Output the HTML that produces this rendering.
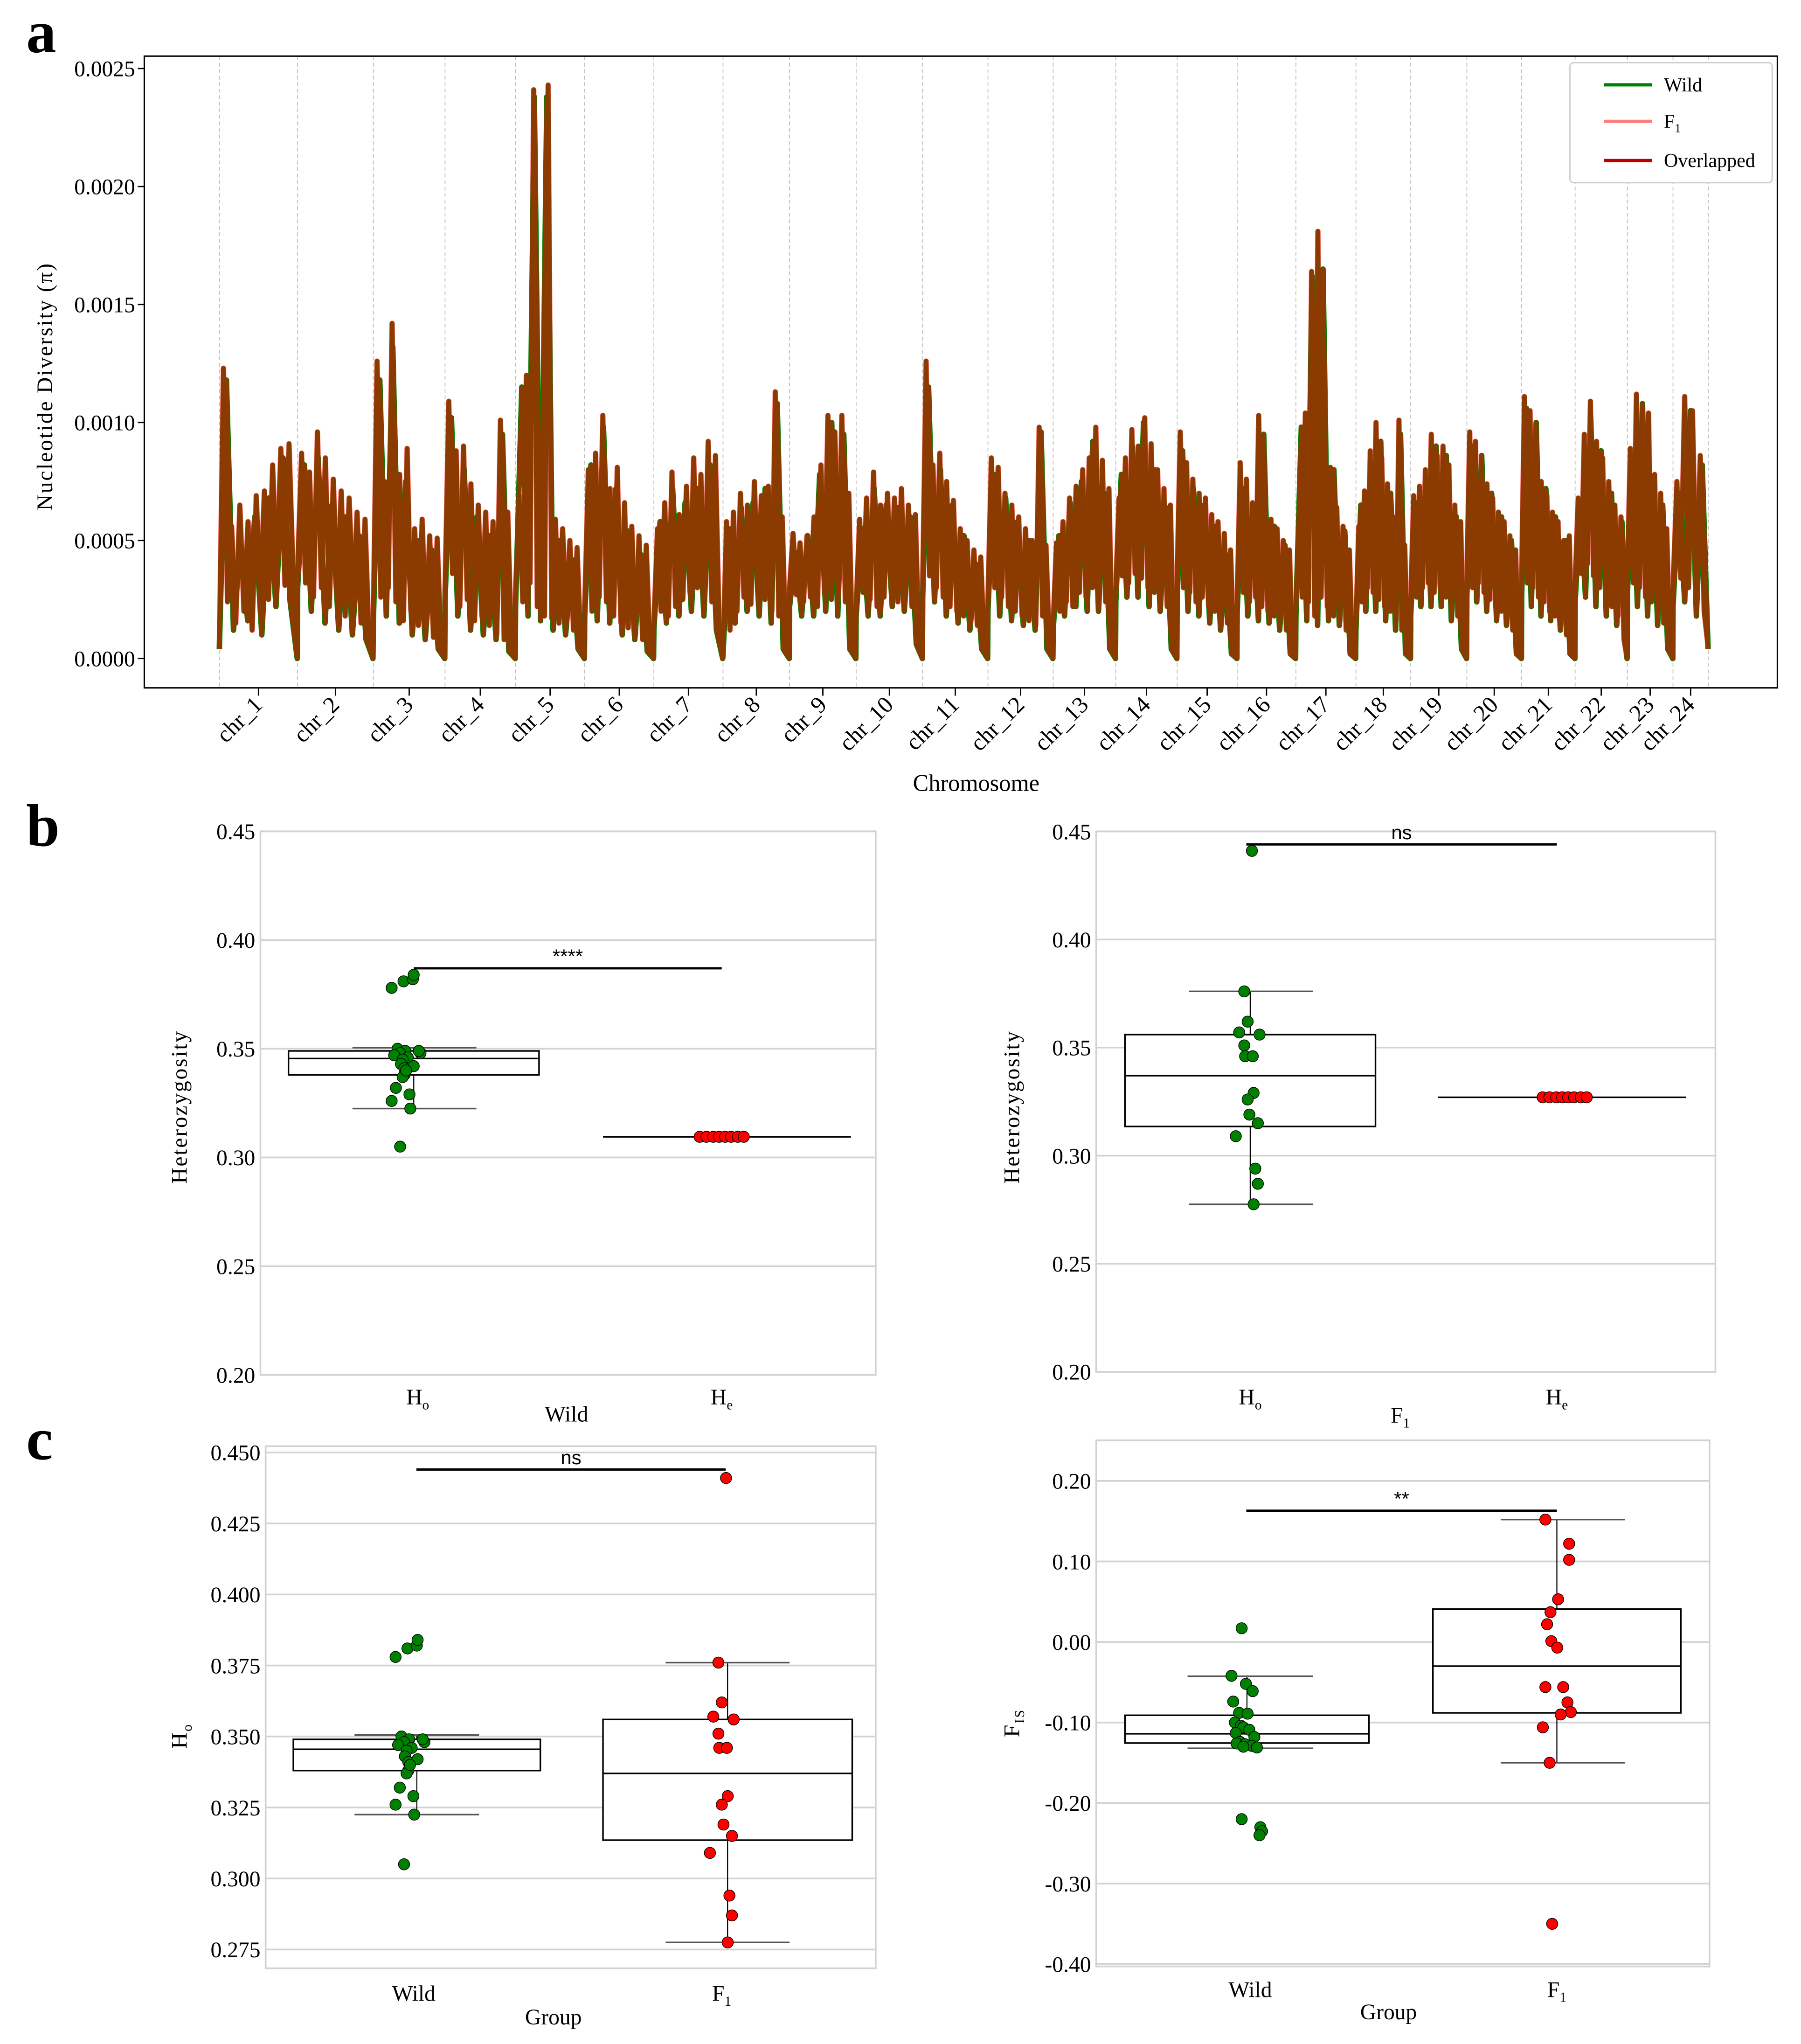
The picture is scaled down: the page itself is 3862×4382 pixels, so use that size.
<!DOCTYPE html>
<html><head><meta charset="utf-8"><style>
html,body{margin:0;padding:0;background:#fff;}
svg{display:block;font-family:"Liberation Serif",serif;}
</style></head><body>
<svg id="fig" width="3862" height="4382" viewBox="0 0 1380 1566" xmlns="http://www.w3.org/2000/svg">
<rect x="0" y="0" width="1380" height="1566" fill="#fff"/>
<text x="20" y="40" font-size="46" font-weight="bold">a</text>
<text x="20" y="648" font-size="46" font-weight="bold">b</text>
<text x="20" y="1118" font-size="46" font-weight="bold">c</text>
<g id="pa"></g>
<g id="pb1"></g>
<g id="pb2"></g>
<g id="pc1"></g>
<g id="pc2"></g>
</svg>
<script>
// ---------- Panel a data (pi in units of 1e-4) ----------
const chrNames = ["chr_1","chr_2","chr_3","chr_4","chr_5","chr_6","chr_7","chr_8","chr_9","chr_10","chr_11","chr_12","chr_13","chr_14","chr_15","chr_16","chr_17","chr_18","chr_19","chr_20","chr_21","chr_22","chr_23","chr_24"];
const chrLengths = [60,58,55,54,53,53,53,51,51,51,50,50,48,47,46,45,46,42,43,42,41,40,35,27];
const piTicks = [0,5,10,15,20,25];
const piTickLabels = ["0.0000","0.0005","0.0010","0.0015","0.0020","0.0025"];
const f1Pi = [
[0.4,12.3,2.4,5.6,1.5,6.5,2.0,5.8,1.2,6.9,2.9,7.1,2.5,8.2,3.4,8.9,3.1,9.1,3.6,0.0],
[3.8,8.7,3.2,7.9,2.6,9.6,3.0,8.5,2.2,7.6,2.8,7.1,1.8,6.8,2.4,6.2,1.5,5.9,0.9,0.0],
[1.8,12.6,2.6,7.5,3.0,14.2,2.4,7.8,1.6,8.9,2.0,5.5,1.4,5.9,1.2,5.2,0.9,5.1,0.6,0.0],
[3.0,10.9,3.6,8.8,2.2,9.0,2.5,7.4,1.6,6.5,1.8,6.2,1.4,5.8,1.0,10.1,0.8,6.2,0.3,0.0],
[2.8,6.9,2.4,12.0,3.2,24.1,2.2,6.0,1.8,24.3,1.7,5.9,1.5,5.5,1.9,5.0,1.2,4.7,0.5,0.0],
[2.2,8.0,2.0,8.7,2.6,10.3,2.4,7.2,1.8,8.1,1.5,6.6,1.3,5.6,1.0,5.2,0.8,4.8,0.4,0.0],
[1.5,5.5,2.0,6.6,1.8,7.9,2.2,6.1,2.5,7.3,2.8,8.5,3.0,7.8,2.6,9.2,2.4,8.6,1.5,0.0],
[0.2,5.8,1.2,6.2,2.0,7.0,2.6,6.5,2.3,7.5,2.8,6.9,2.5,7.3,2.0,11.3,1.8,6.0,0.5,0.0],
[3.0,5.3,2.7,4.9,2.4,5.2,2.6,6.0,2.2,8.2,2.8,10.3,2.5,9.6,3.0,10.3,2.4,7.0,0.5,0.0],
[2.2,5.9,2.8,6.8,2.5,7.9,2.2,6.5,2.6,7.0,3.0,6.8,2.4,7.2,2.6,6.5,2.2,6.1,0.8,0.0],
[3.2,12.6,3.5,8.2,3.0,8.7,2.6,7.5,2.2,6.7,2.0,5.5,1.8,5.0,1.6,4.6,1.4,4.3,0.5,0.0],
[2.5,8.5,3.0,8.1,2.6,7.0,2.2,6.5,2.0,6.0,1.8,5.5,1.6,5.0,1.4,9.8,1.8,4.8,0.5,0.0],
[1.5,4.9,2.0,5.8,2.4,6.8,2.2,7.3,2.8,8.0,2.6,8.5,3.0,9.8,2.8,8.4,2.4,7.2,0.5,0.0],
[3.0,6.8,3.5,8.5,3.2,9.7,3.6,9.0,3.4,10.2,3.0,9.1,2.8,8.0,2.6,7.2,2.2,6.5,0.5,0.0],
[3.5,9.6,3.0,8.3,2.8,7.6,2.4,7.0,2.6,6.8,2.2,6.1,2.0,5.8,1.8,5.3,1.5,4.6,0.3,0.0],
[2.5,8.3,2.8,7.6,2.4,6.6,2.6,10.3,2.2,6.3,2.0,5.9,1.8,5.5,1.6,5.0,1.2,4.6,0.3,0.0],
[2.2,6.0,2.6,10.4,2.4,16.4,1.8,18.1,2.6,9.3,2.2,8.1,1.8,6.4,1.6,5.6,1.2,4.6,0.3,0.0],
[1.5,5.6,2.4,7.1,3.0,8.8,2.8,10.0,2.5,8.5,2.2,7.4,2.0,6.0,1.6,10.1,1.2,4.8,0.3,0.0],
[2.4,6.9,2.6,7.3,3.0,8.0,3.2,9.5,2.8,8.6,3.0,9.0,2.6,8.2,2.0,6.5,1.8,5.8,0.5,0.0],
[3.4,9.6,3.0,9.2,3.2,8.0,2.8,7.4,2.5,6.8,2.2,6.2,2.0,5.8,1.8,5.2,1.2,4.6,0.3,0.0],
[3.5,11.1,3.2,10.5,3.0,8.8,2.6,7.5,2.4,6.9,2.0,6.2,1.8,5.8,1.5,5.0,1.0,5.2,0.3,0.0],
[3.2,6.8,3.6,9.5,4.0,10.9,3.5,9.2,3.0,8.5,2.6,7.5,2.2,6.5,1.8,6.0,0.8,0.0],
[3.5,8.9,3.2,11.2,3.0,8.5,2.6,10.4,2.4,7.8,2.0,7.0,1.5,5.5,0.5,0.0],
[3.0,7.5,3.4,11.1,3.0,10.5,2.5,8.6,2.0,0.5]
];
const wildPi = [
[0.4,11.8,1.2,5.0,1.6,6.0,1.0,6.8,2.2,8.5,2.4,0.0],
[3.0,8.2,2.0,8.5,1.5,6.5,1.2,6.0,1.0,5.2,0.8,0.0],
[1.5,11.8,1.8,13.2,1.5,7.5,1.0,5.0,0.8,4.6,0.4,0.0],
[2.5,10.2,1.8,8.0,1.2,6.0,1.0,5.2,0.8,9.5,0.3,0.0],
[2.2,11.5,1.8,23.8,1.6,23.8,1.2,5.0,1.0,4.2,0.4,0.0],
[1.8,8.2,1.6,9.8,1.5,7.2,1.0,5.4,0.8,4.4,0.3,0.0],
[1.2,5.8,1.5,7.2,1.8,6.6,2.0,7.2,1.8,8.2,1.2,0.0],
[0.2,5.5,1.5,6.4,2.0,6.6,1.8,7.2,1.5,10.8,0.4,0.0],
[2.2,4.5,1.8,5.2,1.8,7.8,2.0,10.0,1.8,9.5,0.4,0.0],
[1.8,5.5,1.8,7.2,1.8,6.5,2.2,6.4,2.0,6.0,0.6,0.0],
[2.6,11.5,2.4,8.0,1.8,6.5,1.5,5.2,1.2,4.0,0.4,0.0],
[2.0,7.8,1.8,6.8,1.6,5.8,1.4,5.0,1.2,9.6,0.4,0.0],
[1.2,5.2,1.8,6.6,2.2,7.5,2.0,9.2,2.0,7.0,0.4,0.0],
[2.4,7.8,2.6,9.0,2.6,10.0,2.2,8.0,2.0,6.4,0.4,0.0],
[2.6,8.8,2.0,7.2,1.8,6.5,1.5,5.6,1.2,4.4,0.2,0.0],
[2.0,7.2,1.8,6.2,1.6,9.5,1.5,5.6,1.2,4.8,0.2,0.0],
[1.8,9.8,1.6,16.2,1.4,16.5,1.6,8.0,1.4,5.4,0.2,0.0],
[1.2,6.5,2.0,8.2,2.0,9.2,1.6,7.0,1.2,9.5,0.2,0.0],
[1.8,6.6,2.2,7.6,2.2,9.0,2.2,8.6,1.6,6.0,0.4,0.0],
[2.6,9.0,2.4,8.6,2.0,7.0,1.6,6.0,1.4,5.0,0.2,0.0],
[2.6,10.6,2.2,10.0,1.8,7.2,1.6,6.0,1.2,5.0,0.2,0.0],
[2.4,6.5,2.6,10.2,2.2,8.8,1.8,7.0,1.4,5.8,0.0],
[2.6,8.5,2.2,10.8,1.8,7.5,1.4,6.5,0.4,0.0],
[2.2,7.0,2.4,10.5,1.8,8.2,0.4]
];

// ---------- Panel b/c data ----------
const hetTicks = [0.20,0.25,0.30,0.35,0.40,0.45];
const hoTicks = [0.275,0.300,0.325,0.350,0.375,0.400,0.425,0.450];
const fisTicks = [-0.40,-0.30,-0.20,-0.10,0.00,0.10,0.20];
const wildHo = [0.378,0.381,0.382,0.384,0.350,0.349,0.348,0.347,0.346,0.348,0.349,0.345,0.343,0.341,0.342,0.338,0.337,0.332,0.329,0.326,0.3225,0.305,0.340];
const wildHoJitter = [-2.3,-0.9,0.2,0.3,-1.6,-0.7,-1.3,-2.0,-0.4,1.1,0.9,-1.0,-1.2,-0.8,0.3,-0.8,-1.0,-1.8,-0.2,-2.3,-0.1,-1.3,-0.6];
const wildHe = 0.3095;
const f1Ho = [0.441,0.376,0.362,0.357,0.356,0.351,0.346,0.346,0.329,0.326,0.319,0.315,0.309,0.294,0.287,0.2775];
const f1HoJitter = [0.2,-0.7,-0.3,-1.3,1.1,-0.7,-0.6,0.3,0.4,-0.3,-0.1,0.9,-1.7,0.6,0.9,0.4];
const f1He = 0.327;
const wildFis = [0.017,-0.042,-0.052,-0.061,-0.074,-0.088,-0.089,-0.100,-0.104,-0.106,-0.109,-0.113,-0.118,-0.124,-0.126,-0.127,-0.129,-0.130,-0.131,-0.220,-0.230,-0.235,-0.240];
const wildFisJitter = [-0.7,-1.9,-0.2,0.6,-1.7,-1.0,0.0,-1.5,-0.8,-0.5,0.2,-1.4,0.8,-0.9,-1.3,-0.3,0.5,-0.5,1.1,-0.7,1.5,1.7,1.4];
const f1Fis = [0.152,0.122,0.102,0.053,0.037,0.022,0.001,-0.007,-0.056,-0.056,-0.075,-0.087,-0.090,-0.106,-0.150,-0.350];
const f1FisJitter = [-1.2,1.6,1.6,0.3,-0.6,-1.0,-0.5,0.2,-1.2,0.9,1.4,1.8,0.6,-1.5,-0.7,-0.4];
// box stats: [whiskerLow, Q1, median, Q3, whiskerHigh]
const wildHoBox = [0.3225,0.338,0.3455,0.349,0.3505];
const f1HoBox = [0.2775,0.3135,0.337,0.356,0.376];
const wildFisBox = [-0.132,-0.1255,-0.114,-0.091,-0.0425];
const f1FisBox = [-0.150,-0.088,-0.030,0.041,0.152];

const NS = "http://www.w3.org/2000/svg";
function mk(parent, tag, attrs, name, inter) {
  const el = document.createElementNS(NS, tag);
  for (const k in attrs) el.setAttribute(k, attrs[k]);
  
  
  parent.appendChild(el);
  return el;
}
function txt(parent, x, y, s, size, name, extra) {
  const t = mk(parent, 'text', Object.assign({x:x, y:y, 'font-size':size}, extra||{}), name, false);
  if (Array.isArray(s)) {
    t.appendChild(document.createTextNode(s[0]));
    const sp = document.createElementNS(NS,'tspan');
    sp.setAttribute('font-size', size*0.62);
    sp.setAttribute('dy', size*0.22);
    sp.textContent = s[1];
    t.appendChild(sp);
  } else t.textContent = s;
  return t;
}

// ---------- Panel a ----------
(function(){
  const g = document.getElementById('pa');
  const L=110.5, R=1362, T=43, B=527;
  const y0 = 504.5, yPer = 18.08;
  const yS = v => y0 - v*yPer;
  const total = chrLengths.reduce((a,b)=>a+b,0);
  const x0 = 168, xW = 1141;
  const xS = gpos => x0 + gpos/total*xW;
  let acc = 0;
  const starts = [];
  for (let i=0;i<chrLengths.length;i++){ starts.push(acc); acc+=chrLengths[i]; }
  for (let i=0;i<=chrLengths.length;i++){
    const gp = i<chrLengths.length ? starts[i] : total;
    mk(g,'line',{x1:xS(gp),x2:xS(gp),y1:T,y2:B,stroke:'#bbb','stroke-width':0.6,'stroke-dasharray':'3,2'},'chromosome-boundary',false);
  }
  function series(data, color, w, name){
    let pts = [];
    for (let i=0;i<data.length;i++){
      const arr = data[i], n = arr.length;
      for (let j=0;j<n;j++){
        const gp = starts[i] + (j/(n-1))*chrLengths[i]*0.995;
        pts.push(xS(gp).toFixed(2)+','+yS(arr[j]).toFixed(2));
      }
    }
    mk(g,'polyline',{points:pts.join(' '),fill:'none',stroke:color,'stroke-width':w,'stroke-linejoin':'round'},name,false);
  }
  series(f1Pi,'#ff7f7f',4.2,'f1-pi-line');
  series(wildPi,'#008000',4.2,'wild-pi-line');
  series(f1Pi,'#8b3a00',3.6,'overlapped-f1-line');
  series(wildPi,'#8b3a00',3.4,'overlapped-wild-line');
  mk(g,'rect',{x:L,y:T,width:R-L,height:B-T,fill:'none',stroke:'#000','stroke-width':1.1},'plot-frame',false);
  for (let i=0;i<piTicks.length;i++){
    const y = yS(piTicks[i]);
    mk(g,'line',{x1:L-5,x2:L,y1:y,y2:y,stroke:'#000','stroke-width':1},'y-tick',false);
    txt(g,L-7,y+6,piTickLabels[i],17,'y-tick-label',{'text-anchor':'end'});
  }
  for (let i=0;i<chrNames.length;i++){
    const x = xS(starts[i]+chrLengths[i]/2);
    mk(g,'line',{x1:x,x2:x,y1:B,y2:B+6,stroke:'#000','stroke-width':1},'x-tick',false);
    txt(g,x+4,B+14,chrNames[i],18,'x-tick-label',{'text-anchor':'end',transform:`rotate(-45 ${x+4} ${B+14})`});
  }
  txt(g,748,606,'Chromosome',18,'x-axis-title',{'text-anchor':'middle'});
  txt(g,40,296,'Nucleotide Diversity (π)',17,'y-axis-title',{'text-anchor':'middle',transform:'rotate(-90 40 296)','letter-spacing':'1'});
  const lg = mk(g,'g',{},'legend',false);
  mk(lg,'rect',{x:1203,y:48,width:155,height:92,rx:3,fill:'#fff',stroke:'#ccc','stroke-width':1},'legend-box',false);
  const items=[['Wild','#008000',65],[['F','1'],'#ff7f7f',93],['Overlapped','#c00000',123]];
  for (const it of items){
    const e = mk(lg,'g',{},'legend-entry',false);
    mk(e,'line',{x1:1229,x2:1266,y1:it[2],y2:it[2],stroke:it[1],'stroke-width':2.5},'legend-swatch',false);
    txt(e,1275,it[2]+5,it[0],15,'legend-label');
  }
})();

// ---------- Box panels ----------
function boxPanel(id, frame, ticks, tickFmt, yAt, yTitle, xTitle, xLabels) {
  const g = document.getElementById(id);
  const [L,R,T,B] = frame;
  for (const t of ticks){
    const y = yAt(t);
    mk(g,'line',{x1:L,x2:R,y1:y,y2:y,stroke:'#d2d2d2','stroke-width':1.3},'gridline',false);
    txt(g,L-4,y+6,tickFmt(t),17,'y-tick-label',{'text-anchor':'end'});
  }
  mk(g,'rect',{x:L,y:T,width:R-L,height:B-T,fill:'none',stroke:'#d2d2d2','stroke-width':1.3},'plot-frame',false);
  txt(g,xLabels[0][1],xLabels[0][2],xLabels[0][0],17,'x-tick-label',{'text-anchor':'middle'});
  txt(g,xLabels[1][1],xLabels[1][2],xLabels[1][0],17,'x-tick-label',{'text-anchor':'middle'});
  txt(g,xTitle[1],xTitle[2],xTitle[0],17,'x-axis-title',{'text-anchor':'middle'});
  txt(g,yTitle[1],yTitle[2],yTitle[0],17,'y-axis-title',{'text-anchor':'middle','letter-spacing':'1',transform:`rotate(-90 ${yTitle[1]} ${yTitle[2]})`});
  return g;
}
function drawBox(g, stats, yAt, bx0, bx1, cx0, cx1, name){
  const cx = (bx0+bx1)/2;
  mk(g,'line',{x1:cx,x2:cx,y1:yAt(stats[0]),y2:yAt(stats[1]),stroke:'#000','stroke-width':0.8},name+'-whisker-low',false);
  mk(g,'line',{x1:cx,x2:cx,y1:yAt(stats[3]),y2:yAt(stats[4]),stroke:'#000','stroke-width':0.8},name+'-whisker-high',false);
  mk(g,'line',{x1:cx0,x2:cx1,y1:yAt(stats[0]),y2:yAt(stats[0]),stroke:'#555','stroke-width':1.2},name+'-cap-low',false);
  mk(g,'line',{x1:cx0,x2:cx1,y1:yAt(stats[4]),y2:yAt(stats[4]),stroke:'#555','stroke-width':1.2},name+'-cap-high',false);
  mk(g,'rect',{x:bx0,y:yAt(stats[3]),width:bx1-bx0,height:yAt(stats[1])-yAt(stats[3]),fill:'#fff',stroke:'#000','stroke-width':1.2},name+'-box',false);
  mk(g,'line',{x1:bx0,x2:bx1,y1:yAt(stats[2]),y2:yAt(stats[2]),stroke:'#000','stroke-width':1.2},name+'-median',false);
}
function drawPoints(g, vals, jit, cx, yAt, color, name){
  for (let i=0;i<vals.length;i++){
    mk(g,'circle',{cx:cx+jit[i]*6.5,cy:yAt(vals[i]),r:4.3,fill:color,stroke:'#000','stroke-width':0.5},name,false);
  }
}
function sigBar(g, x0, x1, y, label){
  mk(g,'line',{x1:x0,x2:x1,y1:y,y2:y,stroke:'#000','stroke-width':1.8},'significance-bar',false);
  txt(g,(x0+x1)/2,y-4,label,15,'significance-label',{'text-anchor':'middle','font-family':'Liberation Sans, sans-serif'});
}
const f2 = v => v.toFixed(2), f3 = v => v.toFixed(3);

(function(){
  const yAt = v => 1053.4 - (v-0.20)/0.05*83.3;
  const g = boxPanel('pb1',[199.5,671,637,1053.4],hetTicks,f2,yAt,['Heterozygosity',143,848],['Wild',434,1089],[[['H','o'],320,1076],[['H','e'],553,1076]]);
  drawBox(g,wildHoBox,yAt,221,413,270,365,'wild-ho');
  mk(g,'line',{x1:462,x2:652,y1:yAt(wildHe),y2:yAt(wildHe),stroke:'#000','stroke-width':1.2},'wild-he-line',false);
  drawPoints(g,wildHo,wildHoJitter,315,yAt,'#008000','wild-ho-point');
  const redJ=[-2.6,-1.8,-1.0,-0.3,0.4,1.1,1.9,2.6];
  for (const j of redJ) mk(g,'circle',{cx:553+j*6.5,cy:yAt(wildHe),r:4.3,fill:'#ff0000',stroke:'#000','stroke-width':0.5},'wild-he-point',false);
  sigBar(g,317,553,yAt(0.387),'****');
})();
(function(){
  const yAt = v => 1051 - (v-0.20)/0.05*82.8;
  const g = boxPanel('pb2',[840,1314.5,637,1051],hetTicks,f2,yAt,['Heterozygosity',781,848],[['F','1'],1073,1090],[[['H','o'],958,1076],[['H','e'],1193,1076]]);
  drawBox(g,f1HoBox,yAt,862,1054,911,1006,'f1-ho');
  mk(g,'line',{x1:1102,x2:1292,y1:yAt(f1He),y2:yAt(f1He),stroke:'#000','stroke-width':1.2},'f1-he-line',false);
  drawPoints(g,f1Ho,f1HoJitter,958,yAt,'#008000','f1-ho-point');
  const redJ=[-2.6,-1.8,-1.0,-0.3,0.4,1.1,1.9,2.6];
  for (const j of redJ) mk(g,'circle',{cx:1199+j*6.5,cy:yAt(f1He),r:4.3,fill:'#ff0000',stroke:'#000','stroke-width':0.5},'f1-he-point',false);
  sigBar(g,955,1193,yAt(0.444),'ns');
})();
(function(){
  const yAt = v => 1493.6 - (v-0.275)/0.025*54.4;
  const g = boxPanel('pc1',[203.5,671,1108,1508],hoTicks,f3,yAt,[['H','o'],143,1330],['Group',424,1551],[['Wild',317,1533],[['F','1'],553,1533]]);
  drawBox(g,wildHoBox,yAt,224.7,414,271.6,367,'wild-ho');
  drawBox(g,f1HoBox,yAt,462,653,510,605,'f1-ho');
  drawPoints(g,wildHo,wildHoJitter,318,yAt,'#008000','wild-ho-point');
  drawPoints(g,f1Ho,f1HoJitter,555,yAt,'#ff0000','f1-ho-point');
  sigBar(g,319,556,yAt(0.444),'ns');
})();
(function(){
  const yAt = v => 1258 - v/0.1*61.7;
  const g = boxPanel('pc2',[840,1310,1103.5,1506.6],fisTicks,f2,yAt,[['F','IS'],781,1320],['Group',1064,1547],[['Wild',958,1530],[['F','1'],1193,1530]]);
  drawBox(g,wildFisBox,yAt,862,1049,910,1006,'wild-fis');
  drawBox(g,f1FisBox,yAt,1098,1288,1150,1245,'f1-fis');
  drawPoints(g,wildFis,wildFisJitter,956,yAt,'#008000','wild-fis-point');
  drawPoints(g,f1Fis,f1FisJitter,1192,yAt,'#ff0000','f1-fis-point');
  sigBar(g,955,1193,yAt(0.163),'**');
})();
</script>
</body></html>
